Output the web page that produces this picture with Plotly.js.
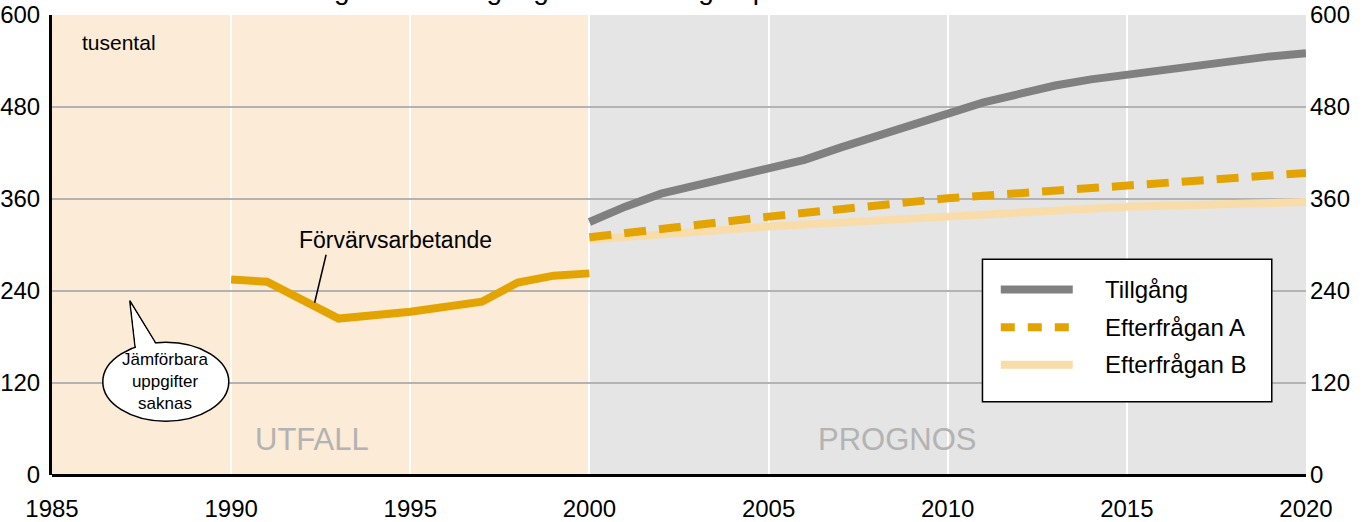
<!DOCTYPE html>
<html>
<head>
<meta charset="utf-8">
<script src="https://cdn.plot.ly/plotly-3.0.1.min.js"></script>
<style>
  body { margin: 0; background: #fff; }
  #chart { width: 1370px; height: 522px; }
</style>
</head>
<body>
<div id="chart"></div>
<script>
// utfall (thousands)
var yearsUtfall = [1990, 1991, 1993, 1995, 1997, 1998, 1999, 2000];
var forvarvs = [255, 252, 204, 213, 226, 251, 260, 263];

// prognos
var yearsTillgang = [2000, 2001, 2002, 2003, 2004, 2005, 2006, 2007, 2008, 2009, 2010,
                     2011, 2012, 2013, 2014, 2015, 2016, 2017, 2018, 2019, 2020];
var tillgang = [330, 350, 367, 378, 389, 398, 411, 427, 442, 458, 473,
                486, 497, 508, 516, 522, 529, 534, 540, 546, 550];
var yearsEfterfragan = [2000, 2005, 2010, 2015, 2020];
var efterfraganA = [310, 337, 361, 378, 394];
var efterfraganB = [307, 324, 337, 350, 356];

var yTicks = [0, 120, 240, 360, 480, 600];
var xTicks = [1985, 1990, 1995, 2000, 2005, 2010, 2015, 2020];

var ORANGE = "#E3A300";
var GRAY = "#808080";
var LIGHT = "#F8DDAA";
var FONT = "Liberation Sans, Arial, sans-serif";

var traces = [
  { x: yearsUtfall, y: forvarvs, mode: "lines", name: "Förvärvsarbetande",
    line: { color: ORANGE, width: 8 } },
  { x: yearsTillgang, y: tillgang, mode: "lines", name: "Tillgång",
    line: { color: GRAY, width: 8 } },
  { x: yearsEfterfragan, y: efterfraganB, mode: "lines", name: "Efterfrågan B",
    line: { color: LIGHT, width: 8 } },
  { x: yearsEfterfragan, y: efterfraganA, mode: "lines", name: "Efterfrågan A",
    line: { color: ORANGE, width: 8, dash: "22px,13px" } }
];

// speech bubble: pointer, ellipse, then a slightly smaller pointer to hide the seam
var bubble = [
  { type: "path", xref: "x", yref: "y", layer: "above",
    path: "M1987.171,227.3 L1987.367,147.8 L1988.093,156.9 Z",
    fillcolor: "#fff", line: { color: "#000", width: 1.5 } },
  { type: "circle", xref: "x", yref: "y", layer: "above",
    x0: 1986.418, x1: 1989.934, y0: 70.2, y1: 173.2,
    fillcolor: "#fff", line: { color: "#000", width: 1.5 } },
  { type: "path", xref: "x", yref: "y", layer: "above",
    path: "M1987.208,222.3 L1987.384,150.7 L1988.037,159.0 Z",
    fillcolor: "#fff", line: { width: 0 } }
];

// legend drawn by hand (box + samples)
var legendShapes = [
  { type: "rect", xref: "paper", yref: "paper", layer: "above",
    x0: 0.742, x1: 0.9727, y0: 0.1594, y1: 0.4688,
    fillcolor: "#fff", line: { color: "#000", width: 1.5 } },
  { type: "line", xref: "paper", yref: "paper", layer: "above",
    x0: 0.7566, x1: 0.814, y0: 0.4033, y1: 0.4033, line: { color: GRAY, width: 8 } },
  { type: "line", xref: "paper", yref: "paper", layer: "above",
    x0: 0.7566, x1: 0.814, y0: 0.321, y1: 0.321, line: { color: ORANGE, width: 8, dash: "14px,13px" } },
  { type: "line", xref: "paper", yref: "paper", layer: "above",
    x0: 0.7566, x1: 0.814, y0: 0.2395, y1: 0.2395, line: { color: LIGHT, width: 8 } }
];

var shapes = [
  { type: "rect", xref: "x", yref: "y", layer: "below", x0: 1985, x1: 2000, y0: 0, y1: 600,
    fillcolor: "#FBEBD7", line: { width: 0 } },
  { type: "rect", xref: "x", yref: "y", layer: "below", x0: 2000, x1: 2020, y0: 0, y1: 600,
    fillcolor: "#E5E5E5", line: { width: 0 } },
  { type: "line", xref: "x", yref: "y", layer: "above", x0: 1992.65, y0: 287.3, x1: 1992.33, y1: 224.7,
    line: { color: "#000", width: 1.5 } }
].concat(bubble, legendShapes);

var legendText = [["Tillgång", 0.4033], ["Efterfrågan A", 0.321], ["Efterfrågan B", 0.2395]];

var annotations = [
  // title sits above the top edge, only its descenders show (as in the source image)
  { xref: "paper", yref: "paper", x: 0.478, y: 1, xanchor: "center", yanchor: "bottom", yshift: 8,
    text: "Diagram 5.3 Tillgång och efterfrågan på arbetsmarknaden", showarrow: false,
    font: { family: FONT, size: 28, color: "#000" } },
  { xref: "paper", yref: "paper", x: 0.0223, y: 0.94, xanchor: "left", yanchor: "middle",
    text: "tusental", showarrow: false, font: { family: FONT, size: 21, color: "#000" } },
  { xref: "x", yref: "y", x: 1994.6, y: 306, text: "Förvärvsarbetande", showarrow: false,
    font: { family: FONT, size: 23, color: "#000" } },
  { xref: "x", yref: "y", x: 1988.18, y: 121.7, text: "Jämförbara<br>uppgifter<br>saknas",
    showarrow: false, font: { family: FONT, size: 17, color: "#000" } },
  { xref: "x", yref: "y", x: 1992.25, y: 46, text: "UTFALL", showarrow: false,
    font: { family: FONT, size: 31, color: "#B3B3B3" } },
  { xref: "x", yref: "y", x: 2008.58, y: 46, text: "PROGNOS", showarrow: false,
    font: { family: FONT, size: 31, color: "#B3B3B3" } }
];
legendText.forEach(function (d) {
  annotations.push({ xref: "paper", yref: "paper", x: 0.8382, y: d[1], xanchor: "left", yanchor: "middle",
    text: d[0], showarrow: false, font: { family: FONT, size: 24, color: "#000" } });
});

var tickFont = { family: FONT, size: 24, color: "#000" };

var layout = {
  width: 1370, height: 522,
  margin: { l: 52, r: 64, t: 15, b: 47 },
  paper_bgcolor: "#fff",
  plot_bgcolor: "rgba(0,0,0,0)",
  showlegend: false,
  font: { family: FONT },
  xaxis: {
    range: [1985, 2020], tickvals: xTicks, ticks: "", tickfont: tickFont,
    showgrid: true, gridcolor: "#fff", gridwidth: 2, zeroline: false,
    showline: false, ticklabelstandoff: 17, fixedrange: true
  },
  yaxis: {
    range: [0, 600], tickvals: yTicks, ticks: "", tickfont: tickFont,
    showgrid: true, gridcolor: "#B3B3B3", gridwidth: 2,
    zeroline: true, zerolinecolor: "#000", zerolinewidth: 3,
    showline: true, linecolor: "#000", linewidth: 3, ticklabelstandoff: 4, fixedrange: true
  },
  yaxis2: {
    range: [0, 600], tickvals: yTicks, ticks: "", tickfont: tickFont,
    overlaying: "y", side: "right", showgrid: false, zeroline: false, showline: false,
    ticklabelstandoff: 3, fixedrange: true
  },
  shapes: shapes,
  annotations: annotations
};

// invisible point so the right axis is drawn
traces.push({ x: [2020], y: [0], yaxis: "y2", mode: "markers", marker: { opacity: 0 },
  hoverinfo: "skip", showlegend: false });

Plotly.newPlot("chart", traces, layout, { staticPlot: true });
</script>
</body>
</html>
